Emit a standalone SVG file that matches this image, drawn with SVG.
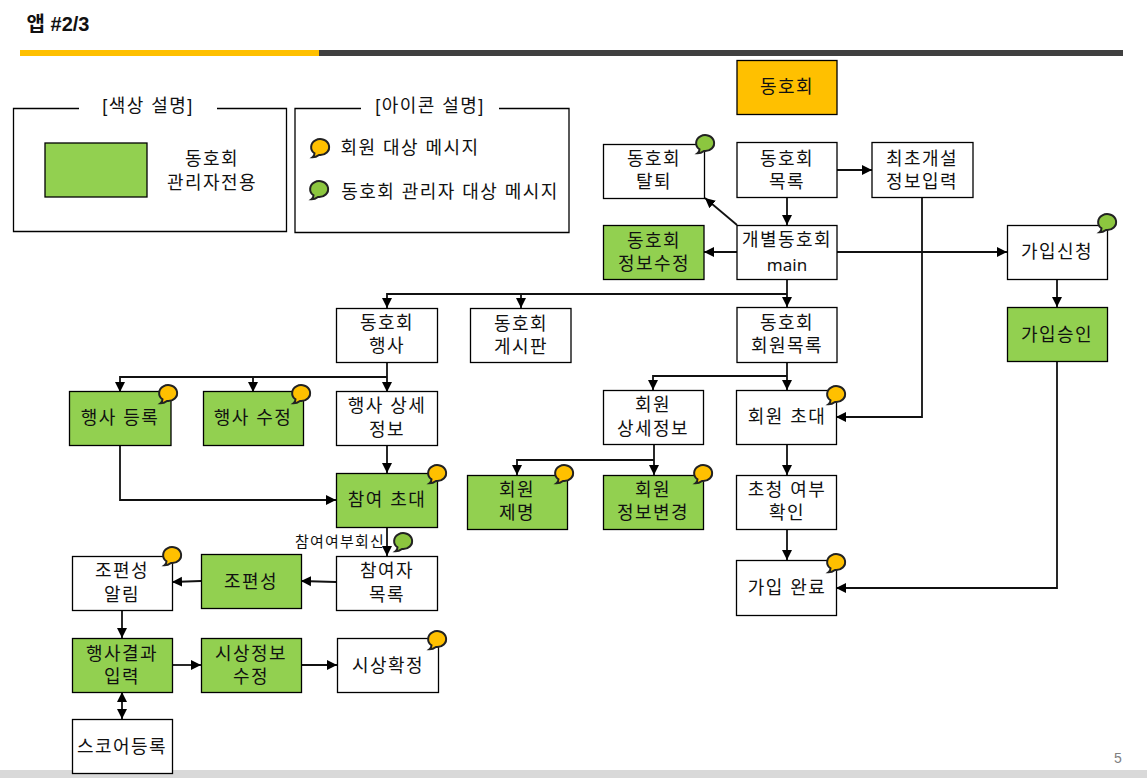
<svg xmlns="http://www.w3.org/2000/svg" width="1147" height="778" viewBox="0 0 1147 778">
<style>
text{font-family:"Liberation Sans","Noto Sans CJK KR",sans-serif;font-size:18px;letter-spacing:1.45px;fill:#111;text-anchor:middle}
.b{fill:#fff;stroke:#000;stroke-width:1.3}
.g{fill:#92D050;stroke:#000;stroke-width:1.3}
.o{fill:#FFC000;stroke:#000;stroke-width:1.3}
.c{fill:none;stroke:#111;stroke-width:1.8;marker-end:url(#a)}
.l{fill:none;stroke:#000;stroke-width:1.3}
.bo{fill:#FFC000;stroke:#222;stroke-width:2}
.bg{fill:#8CC63F;stroke:#222;stroke-width:2}
</style>
<defs>
<marker id="a" markerUnits="userSpaceOnUse" markerWidth="11" markerHeight="11" refX="10" refY="5.500" orient="auto"><path d="M0 0.500L10 5.500L0 10.500Z" fill="#000"/></marker>
<marker id="s" markerUnits="userSpaceOnUse" markerWidth="11" markerHeight="11" refX="0" refY="5.500" orient="auto"><path d="M10 0.500L0 5.500L10 10.500Z" fill="#000"/></marker>
<path id="sp" d="M-5.500 6.300A9 8 0 1 1 -1 8Q-4 10.300-7.500 10.300Q-5.500 8.800-5.500 6.300Z"/>
</defs>
<rect id="footer" x="0" y="770" width="1147" height="8" fill="#d9d9d9"/>
<g id="header">
<text x="58" y="31" style="font-size:20px;font-weight:700;letter-spacing:0">앱 #2/3</text>
<rect x="20" y="50" width="299" height="6" fill="#FFC000"/>
<rect x="319" y="50" width="804" height="6" fill="#404040"/>
<text x="1118" y="763" style="font-size:14px;fill:#808080;letter-spacing:0">5</text>
</g>
<g id="legend-color">
<path class="l" d="M79 108.500H13.500V231.500H286.500V108.500H217"/>
<text x="148" y="112">[색상 설명]</text>
<rect class="g" x="45" y="143" width="102" height="54"/>
<text x="212" y="165">동호회<tspan x="212" dy="24">관리자전용</tspan></text>
</g>
<g id="legend-icon">
<path class="l" d="M361 108.500H295V232.500H569V108.500H499"/>
<text x="430" y="112">[아이콘 설명]</text>
<use href="#sp" class="bo" transform="translate(320 147)"/>
<text x="410" y="154">회원 대상 메시지</text>
<use href="#sp" class="bg" transform="translate(319 189)"/>
<text x="450" y="198">동호회 관리자 대상 메시지</text>
</g>
<g id="connectors">
<path class="c" d="M837 170H872"/>
<path class="c" d="M787 197V225"/>
<path class="c" d="M737 225L705 198"/>
<path class="c" d="M737 252H704"/>
<path class="c" d="M837 252H1007"/>
<path class="c" d="M1057 279V307"/>
<path class="c" d="M1057 361V588H836"/>
<path class="c" d="M922 197V417H836"/>
<path class="c" d="M787 279V307"/>
<path class="c" d="M787 294H387V308"/>
<path class="c" d="M521 294V308"/>
<path class="c" d="M387 362V392"/>
<path class="c" d="M387 377H120V392"/>
<path class="c" d="M253 377V392"/>
<path class="c" d="M387 445V473"/>
<path class="c" d="M120 445V500H336"/>
<path class="c" d="M387 527V556"/>
<path class="c" d="M336 582L301 581"/>
<path class="c" d="M201 581L172 582"/>
<path class="c" d="M122 610V638"/>
<path class="c" d="M172 665H201"/>
<path class="c" d="M301 665H337"/>
<path class="c" style="marker-start:url(#s)" d="M122 692V719"/>
<path class="c" d="M787 362V390"/>
<path class="c" d="M787 376H653V390"/>
<path class="c" d="M654 444V475"/>
<path class="c" d="M654 460H517V475"/>
<path class="c" d="M787 444V475"/>
<path class="c" d="M787 529V560"/>
</g>
<g id="n-top"><rect class="o" x="737" y="60.500" width="100" height="54"/><text x="787" y="93">동호회</text></g>
<g id="n-leave"><rect class="b" x="603.500" y="144.500" width="101" height="54"/><text x="654" y="165">동호회<tspan x="654" dy="23">탈퇴</tspan></text><use href="#sp" class="bg" transform="translate(705 143)"/></g>
<g id="n-list"><rect class="b" x="737" y="142.500" width="100" height="55"/><text x="787" y="165">동호회<tspan x="787" dy="23">목록</tspan></text></g>
<g id="n-first"><rect class="b" x="872" y="142.500" width="101" height="55"/><text x="922" y="165">최초개설<tspan x="922" dy="23">정보입력</tspan></text></g>
<g id="n-main"><rect class="b" x="737" y="225.500" width="100" height="54"/><text x="787" y="246">개별동호회<tspan x="787" dy="25" style="font-family:'Noto Sans',sans-serif;font-size:17px;letter-spacing:0">main</tspan></text></g>
<g id="n-edit"><rect class="g" x="603.500" y="225.500" width="100.500" height="54"/><text x="654" y="247">동호회<tspan x="654" dy="23">정보수정</tspan></text></g>
<g id="n-apply"><rect class="b" x="1007.500" y="225.500" width="100" height="54"/><text x="1057" y="258">가입신청</text><use href="#sp" class="bg" transform="translate(1107 222)"/></g>
<g id="n-approve"><rect class="g" x="1007.500" y="307.500" width="100" height="54"/><text x="1057" y="341">가입승인</text></g>
<g id="n-event"><rect class="b" x="336.500" y="308.500" width="101" height="54"/><text x="387" y="329">동호회<tspan x="387" dy="23">행사</tspan></text></g>
<g id="n-board"><rect class="b" x="470.500" y="308.500" width="100.500" height="54"/><text x="521" y="330">동호회<tspan x="521" dy="23">게시판</tspan></text></g>
<g id="n-members"><rect class="b" x="737" y="307.500" width="100" height="55"/><text x="787" y="329">동호회<tspan x="787" dy="23">회원목록</tspan></text></g>
<g id="n-reg"><rect class="g" x="69.500" y="391.500" width="101.500" height="54"/><text x="120" y="424">행사 등록</text><use href="#sp" class="bo" transform="translate(168 393)"/></g>
<g id="n-mod"><rect class="g" x="203.500" y="391.500" width="100" height="54"/><text x="253" y="424">행사 수정</text><use href="#sp" class="bo" transform="translate(301 393)"/></g>
<g id="n-detail"><rect class="b" x="336.500" y="391.500" width="101" height="54"/><text x="387" y="412">행사 상세<tspan x="387" dy="24">정보</tspan></text></g>
<g id="n-invite"><rect class="g" x="336.500" y="473.500" width="101" height="54"/><text x="387" y="506">참여 초대</text><use href="#sp" class="bo" transform="translate(437 473)"/></g>
<g id="n-reply"><text x="340" y="547" style="font-size:15px;letter-spacing:1.2px">참여여부회신</text><use href="#sp" class="bg" transform="translate(403 541)"/></g>
<g id="n-part"><rect class="b" x="336.500" y="556.500" width="101" height="54"/><text x="387" y="577">참여자<tspan x="387" dy="24">목록</tspan></text></g>
<g id="n-team"><rect class="g" x="201.500" y="554.500" width="100" height="54"/><text x="251" y="588">조편성</text></g>
<g id="n-notify"><rect class="b" x="72.500" y="556.500" width="100" height="54"/><text x="122" y="577">조편성<tspan x="122" dy="24">알림</tspan></text><use href="#sp" class="bo" transform="translate(172 555)"/></g>
<g id="n-result"><rect class="g" x="72.500" y="638.500" width="100" height="54"/><text x="122" y="660">행사결과<tspan x="122" dy="23">입력</tspan></text></g>
<g id="n-prize"><rect class="g" x="201.500" y="638.500" width="100" height="54"/><text x="251" y="660">시상정보<tspan x="251" dy="23">수정</tspan></text></g>
<g id="n-confirm"><rect class="b" x="337.500" y="638.500" width="101" height="54"/><text x="388" y="672">시상확정</text><use href="#sp" class="bo" transform="translate(437 639)"/></g>
<g id="n-score"><rect class="b" x="72.500" y="719.500" width="100" height="54"/><text x="122" y="753">스코어등록</text></g>
<g id="n-mdetail"><rect class="b" x="603.500" y="390.500" width="100" height="54"/><text x="653" y="411">회원<tspan x="653" dy="24">상세정보</tspan></text></g>
<g id="n-minvite"><rect class="b" x="736.500" y="390.500" width="100" height="54"/><text x="787" y="423">회원 초대</text><use href="#sp" class="bo" transform="translate(836 394)"/></g>
<g id="n-expel"><rect class="g" x="467.500" y="475.500" width="100" height="54"/><text x="517" y="496">회원<tspan x="517" dy="23">제명</tspan></text><use href="#sp" class="bo" transform="translate(564 473)"/></g>
<g id="n-mchange"><rect class="g" x="603.500" y="475.500" width="100" height="54"/><text x="653" y="496">회원<tspan x="653" dy="23">정보변경</tspan></text><use href="#sp" class="bo" transform="translate(703 473)"/></g>
<g id="n-check"><rect class="b" x="736.500" y="475.500" width="100" height="54"/><text x="787" y="496">초청 여부<tspan x="787" dy="23">확인</tspan></text></g>
<g id="n-done"><rect class="b" x="736.500" y="560.500" width="100" height="55"/><text x="787" y="594">가입 완료</text><use href="#sp" class="bo" transform="translate(836 562)"/></g>
</svg>
